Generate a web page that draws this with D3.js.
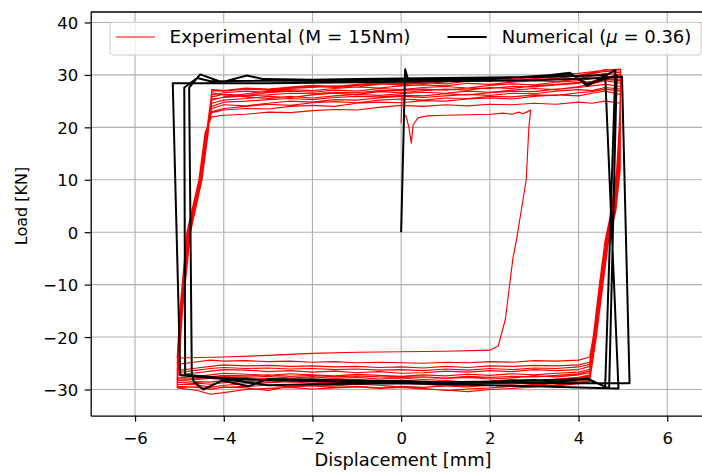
<!DOCTYPE html>
<html>
<head>
<meta charset="utf-8">
<script src="https://cdn.jsdelivr.net/npm/d3@7"></script>
<style>
  body { margin: 0; background: #fff; }
  svg { display: block; font-family: "DejaVu Sans", sans-serif; }
</style>
</head>
<body>
<svg id="chart" width="702" height="473"></svg>
<script>
// ---- tick labels ----
const xTicks = [-6, -4, -2, 0, 2, 4, 6];
const yTicks = [-30, -20, -10, 0, 10, 20, 30, 40];

// ---- experimental: first (virgin) half cycle ----
const expSpike = [[0.0, 20.8], [0.02, 26.0]];
const expFirst = [
  [0.1, 22.4], [0.17, 20.2], [0.23, 17.0], [0.27, 20.5], [0.38, 21.8], [0.6, 22.2],
  [1, 22.3], [1.5, 22.4], [2, 22.5], [2.3, 22.7], [2.5, 22.5], [2.65, 22.9],
  [2.75, 22.6], [2.85, 23.0], [2.92, 23.3], [2.88, 20], [2.82, 10], [2.6, -1.5],
  [2.52, -5], [2.35, -16.6], [2.19, -21.7], [2.0, -22.5], [1, -22.7], [0, -22.8],
  [-1, -22.9], [-2, -23.1], [-3, -23.5], [-4, -23.8], [-5.05, -24.0]
];

// ---- experimental cycles: displacement stations and loads per cycle ----
const topDisp = [-4.27, -4, -3.5, -3, -2.5, -2, -1.5, -1, -0.5, 0, 0.5, 1, 1.5, 2, 2.5, 3, 3.5, 4, 4.3, 4.6, 4.95];
const botDisp = [4.25, 4, 3.5, 3, 2.5, 2, 1.5, 1, 0.5, 0, -0.5, -1, -1.5, -2, -2.5, -3, -3.5, -4, -4.3, -4.6, -5.05];
const riseLoad = [-15, 0, 10, 19];
const fallLoad = [12, 4, -1.5, -10, -20];

const expTopLoad = [
  [22.0, 22.3, 22.5, 22.9, 22.8, 23.2, 23.4, 23.3, 23.8, 24.2, 24.0, 24.3, 24.1, 24.4, 24.3, 24.6, 24.4, 24.8, 24.6, 25.0, 24.6],
  [22.8, 23.3, 23.6, 23.5, 24.0, 24.2, 24.0, 24.6, 24.8, 24.7, 25.1, 25.0, 25.4, 25.6, 25.4, 25.9, 26.2, 26.0, 26.5, 26.9, 26.3],
  [23.6, 24.3, 24.1, 24.6, 25.0, 24.8, 25.3, 25.2, 25.6, 25.9, 25.7, 26.0, 26.3, 26.1, 26.5, 26.4, 26.9, 27.2, 27.0, 27.6, 27.3],
  [26.6, 26.2, 25.8, 25.5, 25.9, 25.6, 26.0, 26.3, 26.1, 26.4, 26.7, 26.5, 26.9, 26.7, 27.1, 27.4, 27.2, 27.8, 28.3, 28.9, 28.4],
  [24.6, 25.2, 25.5, 25.9, 25.7, 26.2, 26.5, 26.3, 26.8, 26.6, 27.0, 27.3, 27.1, 27.6, 27.4, 27.9, 28.2, 28.6, 28.4, 29.2, 28.8],
  [25.8, 26.3, 26.1, 26.6, 26.9, 26.7, 27.1, 26.9, 27.4, 27.2, 27.6, 27.8, 27.5, 28.0, 28.3, 28.1, 28.6, 28.9, 29.3, 29.8, 29.4],
  [26.2, 26.6, 26.9, 26.7, 27.2, 27.0, 27.4, 27.7, 27.5, 27.9, 28.1, 27.9, 28.4, 28.2, 28.6, 28.9, 28.7, 29.3, 29.8, 30.3, 30.0],
  [27.0, 26.9, 27.3, 27.1, 27.5, 27.8, 27.6, 28.0, 28.3, 28.1, 28.5, 28.3, 28.8, 29.0, 28.8, 29.3, 29.6, 29.9, 30.2, 30.7, 30.4],
  [25.2, 25.8, 26.4, 26.9, 27.4, 27.6, 27.9, 27.7, 28.2, 28.5, 28.3, 28.7, 29.0, 28.8, 29.2, 29.5, 29.3, 29.9, 30.4, 31.0, 30.7],
  [27.2, 27.0, 27.5, 27.3, 27.7, 28.0, 27.8, 28.2, 28.5, 28.3, 28.7, 29.0, 28.8, 29.3, 29.6, 29.4, 29.9, 30.3, 30.6, 30.9, 31.1],
  [23.0, 23.6, 24.0, 24.4, 24.2, 24.7, 24.9, 24.7, 25.2, 25.4, 25.2, 25.6, 25.5, 25.9, 25.8, 26.2, 26.1, 26.6, 26.8, 27.3, 26.9],
  [25.4, 25.7, 26.0, 26.2, 26.5, 26.4, 26.7, 26.6, 27.0, 27.0, 27.3, 27.1, 27.5, 27.4, 27.8, 27.7, 28.1, 28.4, 28.8, 29.4, 29.0],
  [24.0, 24.8, 25.0, 25.3, 25.5, 25.3, 25.7, 25.9, 25.8, 26.1, 26.0, 26.4, 26.2, 26.6, 26.9, 26.8, 27.3, 27.6, 27.9, 28.2, 27.8]
];
const expBotLoad = [
  [-23.8, -24.4, -24.6, -24.5, -24.8, -24.7, -24.9, -24.8, -25.0, -24.9, -24.8, -24.9, -24.7, -24.8, -24.6, -24.7, -24.5, -24.6, -24.4, -24.7, -25.2],
  [-24.8, -25.3, -25.5, -25.4, -25.6, -25.5, -25.8, -25.6, -25.9, -25.7, -25.8, -25.6, -25.7, -25.5, -25.6, -25.4, -25.5, -25.3, -25.6, -25.9, -26.4],
  [-25.6, -26.2, -26.4, -26.2, -26.6, -26.4, -26.7, -26.5, -26.8, -26.9, -26.6, -26.8, -26.5, -26.7, -26.4, -26.6, -26.3, -26.2, -26.5, -26.8, -27.2],
  [-26.2, -26.7, -26.9, -27.2, -27.0, -27.3, -27.1, -27.4, -27.2, -27.5, -27.3, -27.1, -27.4, -27.2, -27.0, -27.3, -27.1, -26.9, -27.2, -27.5, -27.8],
  [-26.8, -27.2, -27.6, -27.4, -27.8, -28.0, -27.7, -27.9, -28.1, -27.8, -28.0, -27.7, -27.9, -27.6, -27.8, -27.5, -27.7, -27.6, -27.9, -28.1, -28.3],
  [-27.2, -27.7, -28.0, -28.3, -28.1, -28.4, -28.6, -28.3, -28.5, -28.2, -28.4, -28.1, -28.3, -28.0, -28.2, -27.9, -28.1, -28.3, -28.6, -28.5, -28.7],
  [-27.6, -28.1, -28.4, -28.7, -29.0, -28.8, -29.1, -29.3, -29.0, -28.8, -28.7, -28.9, -28.6, -28.8, -28.5, -28.7, -28.9, -29.2, -29.6, -29.1, -29.0],
  [-28.0, -28.4, -28.8, -29.1, -29.4, -29.7, -29.9, -30.2, -29.8, -29.5, -29.2, -29.0, -29.3, -29.1, -29.4, -30.2, -29.7, -29.5, -30.0, -29.6, -29.4],
  [-28.3, -28.7, -29.1, -29.5, -29.8, -30.0, -30.4, -30.1, -29.9, -29.6, -29.8, -29.5, -29.7, -29.9, -29.6, -29.8, -30.0, -30.6, -30.9, -30.2, -29.7],
  [-28.5, -28.9, -29.3, -29.0, -29.4, -29.2, -29.5, -29.3, -29.6, -29.4, -29.7, -29.4, -29.6, -29.3, -29.5, -29.2, -29.4, -29.6, -29.9, -29.5, -29.6],
  [-25.2, -25.7, -26.0, -25.9, -26.2, -26.0, -26.3, -26.1, -26.4, -26.2, -26.3, -26.1, -26.2, -26.0, -26.1, -25.9, -26.0, -25.8, -26.0, -26.3, -26.8],
  [-26.5, -27.0, -27.3, -27.6, -27.5, -27.7, -27.5, -27.8, -27.6, -27.7, -27.6, -27.4, -27.6, -27.3, -27.5, -27.2, -27.4, -27.3, -27.6, -27.9, -28.0],
  [-27.4, -27.9, -28.2, -28.5, -28.4, -28.7, -28.9, -28.6, -28.8, -28.6, -28.7, -28.5, -28.6, -28.4, -28.6, -28.3, -28.5, -28.7, -29.0, -28.8, -29.1]
];
const expRiseDisp = [
  [-4.99, -4.83, -4.56, -4.42], [-4.98, -4.81, -4.55, -4.41],
  [-4.97, -4.80, -4.54, -4.40], [-4.96, -4.79, -4.53, -4.39],
  [-4.97, -4.78, -4.52, -4.38], [-4.95, -4.77, -4.51, -4.38],
  [-4.96, -4.79, -4.52, -4.37], [-4.94, -4.76, -4.50, -4.37],
  [-4.95, -4.77, -4.51, -4.36], [-4.93, -4.75, -4.49, -4.35],
  [-4.98, -4.82, -4.55, -4.41], [-4.96, -4.78, -4.52, -4.38],
  [-4.97, -4.80, -4.54, -4.39]
];
const expFallDisp = [
  [4.86, 4.74, 4.60, 4.47, 4.33], [4.87, 4.76, 4.61, 4.48, 4.34],
  [4.88, 4.77, 4.62, 4.49, 4.35], [4.89, 4.78, 4.63, 4.50, 4.36],
  [4.90, 4.79, 4.64, 4.51, 4.37], [4.90, 4.80, 4.65, 4.52, 4.37],
  [4.91, 4.81, 4.66, 4.52, 4.38], [4.92, 4.82, 4.66, 4.53, 4.38],
  [4.93, 4.83, 4.67, 4.54, 4.39], [4.94, 4.84, 4.68, 4.55, 4.40],
  [4.88, 4.75, 4.61, 4.48, 4.35], [4.91, 4.80, 4.65, 4.52, 4.37],
  [4.89, 4.78, 4.63, 4.50, 4.36]
];

// ---- numerical result (mu = 0.36) ----
const numPath = [
  [0, 0], [0.09, 31.1], [0.15, 29.3], [1, 29.4], [2, 29.5], [3, 29.6], [3.81, 30.4], [4.2, 27.9], [4.83, 30.9],
  [4.6, -29.5], [4.2, -27.9], [3.5, -28.6], [3, -28.2], [2, -28.5], [1, -28.6], [0, -28.4], [-1, -28.3],
  [-2, -28.1], [-3, -28.0], [-3.45, -29.4], [-4.04, -28.3], [-4.46, -30.0], [-4.67, -28.6], [-4.72, -27.1],
  [-4.78, 27.6], [-4.53, 30.1], [-4.04, 28.6], [-3.48, 29.9], [-3.1, 29.2], [-2, 29.1], [-1, 29.2], [0, 29.3],
  [1, 29.4], [2, 29.5], [3, 29.6], [4, 29.8], [4.6, 30.0],
  [4.9, -29.8], [4, -29.6], [3, -29.4], [2, -29.2], [1, -29.0], [0, -28.8], [-1, -28.6], [-2, -28.4],
  [-3, -28.2], [-4, -27.8], [-4.87, -27.2],
  [-4.89, 27.6], [-4.6, 29.4], [-4.3, 28.8], [-3, 28.9], [-2, 28.9], [0, 29.0], [2, 29.2], [3.81, 30.2],
  [4.2, 28.3], [4.86, 29.9],
  [4.69, -29.8], [4.2, -28.0], [3, -28.3], [2, -28.6], [0, -28.8], [-2, -29.0], [-3, -29.2], [-4, -28.0],
  [-4.98, -27.3],
  [-5.15, 28.4], [-3, 28.4], [-1, 28.6], [1, 28.8], [3, 29.0], [4.5, 29.4], [4.98, 29.7],
  [5.15, -28.8], [4, -28.8], [2, -28.7], [0, -28.6], [-2, -28.4], [-4, -28.0], [-4.7, -27.5]
];

// ---- layout ----
const plotL = 90.7, plotR = 711.6, plotT = 12, plotB = 415.7;
const svg = d3.select('#chart');

const x = d3.scaleLinear().domain([-7, 7]).range([plotL, plotR]);
const y = d3.scaleLinear().domain([-35, 42]).range([plotB, plotT]);

const fmt = d => d < 0 ? '\u2212' + Math.abs(d) : String(d);

// grid
const grid = svg.append('g').attr('stroke', '#b0b0b0').attr('stroke-width', 1.1);
grid.selectAll('.gx').data(xTicks).join('line')
  .attr('x1', d => x(d)).attr('x2', d => x(d))
  .attr('y1', plotT).attr('y2', plotB);
grid.selectAll('.gy').data(yTicks).join('line')
  .attr('x1', plotL).attr('x2', plotR)
  .attr('y1', d => y(d)).attr('y2', d => y(d));

// data, clipped to the axes box
svg.append('clipPath').attr('id', 'clip')
  .append('rect').attr('x', plotL).attr('y', plotT)
  .attr('width', plotR - plotL).attr('height', plotB - plotT);

const line = d3.line().x(d => x(d[0])).y(d => y(d[1]));

// build the continuous experimental path from the cycle tables
const expPath = expFirst.slice();
expTopLoad.forEach((tops, i) => {
  riseLoad.forEach((l, k) => expPath.push([expRiseDisp[i][k], l]));
  topDisp.forEach((d, k) => expPath.push([d, tops[k]]));
  fallLoad.forEach((l, k) => expPath.push([expFallDisp[i][k], l]));
  botDisp.forEach((d, k) => expPath.push([d, expBotLoad[i][k]]));
});

const plot = svg.append('g').attr('clip-path', 'url(#clip)');
plot.selectAll('.exp').data([expSpike, expPath]).join('path')
  .attr('d', line)
  .attr('fill', 'none')
  .attr('stroke', '#ff0000')
  .attr('stroke-width', 1.15)
  .attr('stroke-linejoin', 'round');

plot.append('path')
  .attr('d', line(numPath))
  .attr('fill', 'none')
  .attr('stroke', '#000')
  .attr('stroke-width', 2)
  .attr('stroke-linejoin', 'round');

// axes
const xAxis = svg.append('g')
  .attr('transform', `translate(0,${plotB})`)
  .call(d3.axisBottom(x).tickValues(xTicks).tickFormat(fmt).tickSize(6).tickSizeOuter(0));
xAxis.selectAll('text').attr('y', 28.7).attr('dy', 0);

const yAxis = svg.append('g')
  .attr('transform', `translate(${plotL},0)`)
  .call(d3.axisLeft(y).tickValues(yTicks).tickFormat(fmt).tickSize(6).tickSizeOuter(0));
yAxis.selectAll('text').attr('x', -12.5).attr('dy', '0.36em');

[xAxis, yAxis].forEach(a => {
  a.attr('font-family', '"DejaVu Sans", sans-serif').attr('font-size', 16.5);
  a.selectAll('text').attr('fill', '#000');
  a.selectAll('line').attr('stroke', '#000').attr('stroke-width', 1.2);
  a.select('.domain').attr('stroke', '#000').attr('stroke-width', 1.3);
});

// top and right spines
svg.append('line').attr('x1', plotL).attr('x2', plotR).attr('y1', plotT).attr('y2', plotT)
  .attr('stroke', '#000').attr('stroke-width', 1.3);
svg.append('line').attr('x1', plotR).attr('x2', plotR).attr('y1', plotT).attr('y2', plotB)
  .attr('stroke', '#000').attr('stroke-width', 1.3);

// axis labels
svg.append('text')
  .attr('x', 403).attr('y', 466)
  .attr('text-anchor', 'middle').attr('font-size', 18)
  .attr('textLength', 177).attr('lengthAdjust', 'spacingAndGlyphs')
  .text('Displacement [mm]');

svg.append('text')
  .attr('transform', 'translate(26.5,206) rotate(-90)')
  .attr('text-anchor', 'middle').attr('font-size', 16)
  .text('Load [KN]');

// legend
const legend = svg.append('g');
legend.append('rect')
  .attr('x', 110).attr('y', 22.3).attr('width', 591).attr('height', 32.7).attr('rx', 3)
  .attr('fill', '#fff').attr('fill-opacity', 0.8)
  .attr('stroke', '#cccccc').attr('stroke-width', 1);

legend.append('line').attr('x1', 116).attr('x2', 155).attr('y1', 37).attr('y2', 37)
  .attr('stroke', '#ff0000').attr('stroke-width', 1.1);
legend.append('text').attr('x', 169.5).attr('y', 42.6).attr('font-size', 18)
  .attr('textLength', 241).attr('lengthAdjust', 'spacingAndGlyphs')
  .text('Experimental (M = 15Nm)');

legend.append('line').attr('x1', 447.5).attr('x2', 486.7).attr('y1', 37).attr('y2', 37)
  .attr('stroke', '#000').attr('stroke-width', 2);
const numText = legend.append('text').attr('x', 501.7).attr('y', 42.6).attr('font-size', 18);
numText.append('tspan').text('Numerical (');
numText.append('tspan').attr('font-style', 'italic').text('\u03bc');
numText.append('tspan').text(' = 0.36)');
</script>
</body>
</html>
